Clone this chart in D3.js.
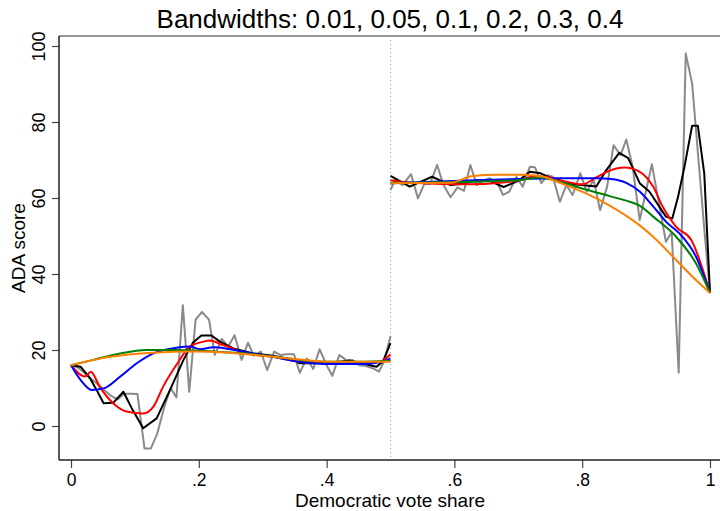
<!DOCTYPE html>
<html lang="en">
<head>
  <meta charset="UTF-8">
  <title>Bandwidths</title>
  <script src="https://cdn.jsdelivr.net/npm/d3@7"></script>
  <style>
    body { margin: 0; background: #fff; }
    text { font-family: "Liberation Sans", Arial, sans-serif; fill: #000; }
    .tick line { stroke: #444; stroke-width: 1.2px; }
    .line { fill: none; stroke-width: 2px; stroke-linejoin: round; }
  </style>
</head>
<body>
  <svg width="720" height="511"></svg>
  <script>
    // tick labels
    var xTicks = [0, 0.2, 0.4, 0.6, 0.8, 1];
    var xTickLabels = ["0", ".2", ".4", ".6", ".8", "1"];
    var yTicks = [0, 20, 40, 60, 80, 100];

    // bandwidth 0.01 (gray)
    var bw001Left = [[0,16],[0.01,15.5],[0.021,14],[0.031,12.5],[0.042,11],[0.052,9.5],[0.062,8],[0.073,7],
      [0.083,8.5],[0.094,8.5],[0.104,8.4],[0.115,-5.9],[0.125,-5.9],[0.135,-2],[0.146,5],[0.156,10],[0.165,7.5],
      [0.175,31.8],[0.185,9],[0.195,28],[0.205,30],[0.216,28],[0.225,18.7],[0.236,22.9],[0.246,20.9],[0.256,23.9],
      [0.267,17.4],[0.277,21.9],[0.286,18.5],[0.297,19.6],[0.307,14.7],[0.318,19.6],[0.327,18.7],[0.338,18.9],
      [0.349,18.9],[0.358,14],[0.369,17.8],[0.379,15],[0.389,20.2],[0.40,16],[0.409,13.2],[0.42,18.7],[0.43,17.4],
      [0.44,17.4],[0.451,16],[0.461,15.8],[0.472,15.2],[0.482,14.3],[0.49,17],[0.5,23.7]];
    var bw001Right = [[0.5,62.1],[0.507,64.7],[0.519,63.4],[0.532,66.3],[0.543,59.9],[0.553,63.7],[0.562,63.7],
      [0.573,68.7],[0.583,63.4],[0.594,60.2],[0.605,62.8],[0.615,61.9],[0.625,68.7],[0.635,63.4],[0.646,64.7],
      [0.656,65.2],[0.668,63.7],[0.676,60.8],[0.686,61.7],[0.697,65.6],[0.707,63],[0.718,68.2],[0.726,68.1],
      [0.736,63.9],[0.746,66],[0.754,65.6],[0.765,59],[0.775,63.4],[0.785,60.8],[0.797,66.5],[0.807,61.7],
      [0.818,64.7],[0.828,56.8],[0.839,63],[0.849,73.9],[0.86,71.3],[0.869,75.4],[0.879,68.2],[0.89,54.2],
      [0.909,68.9],[0.931,48.5],[0.94,51],[0.951,14],[0.962,98],[0.972,90.2],[0.982,70],[0.991,52],[1,35]];

    // bandwidth 0.05 (black)
    var bw005Left = [[0,16],[0.015,15.6],[0.03,12.5],[0.04,9.5],[0.051,6],[0.066,6.1],[0.082,9],[0.095,4.7],
      [0.113,-0.6],[0.134,2],[0.155,9.5],[0.176,17.4],[0.191,22],[0.204,23.8],[0.22,23.8],[0.233,22.2],
      [0.254,20.4],[0.285,19.1],[0.316,18.5],[0.348,17.4],[0.358,16.5],[0.379,16.5],[0.41,16.8],[0.436,17.2],
      [0.455,16.5],[0.478,15.6],[0.488,16.9],[0.5,21.8]];
    var bw005Right = [[0.5,65.8],[0.53,63],[0.565,65.6],[0.594,63.4],[0.615,63.8],[0.635,64.7],[0.655,64.5],
      [0.677,62.9],[0.7,64.5],[0.718,66.9],[0.735,66.5],[0.749,65.4],[0.77,63.9],[0.795,63.5],[0.822,63],
      [0.838,67.4],[0.858,71.9],[0.872,70.5],[0.89,63.9],[0.905,61.7],[0.931,55.1],[0.941,54.6],[0.95,60.3],
      [0.96,68.2],[0.972,79],[0.981,79],[0.991,66.5],[1,35]];

    // bandwidth 0.1 (red)
    var bw01Left = [[0,16],[0.022,13],[0.031,14.3],[0.045,10.3],[0.066,6],[0.087,3.8],[0.113,3.3],[0.129,5.1],
      [0.144,10.3],[0.165,16.1],[0.186,20.9],[0.207,22.2],[0.217,22.5],[0.238,21.3],[0.275,19.1],[0.316,18.2],
      [0.358,16.9],[0.405,16.5],[0.452,16.5],[0.483,16.9],[0.5,18.9]];
    var bw01Right = [[0.5,64.7],[0.535,64],[0.58,63.7],[0.624,63.6],[0.671,64],[0.702,64.7],[0.728,65.8],
      [0.749,65.4],[0.775,64.3],[0.8,63.6],[0.822,65.4],[0.843,67.2],[0.866,68],[0.89,66.9],[0.911,63],
      [0.926,57.7],[0.947,52.4],[0.971,48.9],[0.989,41],[1,35]];

    // bandwidth 0.2 (blue)
    var bw02Left = [[0,16],[0.017,11.7],[0.032,9.5],[0.051,9.9],[0.077,13],[0.103,16.5],[0.129,19.1],
      [0.165,20.6],[0.186,20.9],[0.202,20.2],[0.223,20.7],[0.249,20.2],[0.275,19.4],[0.316,18.2],[0.358,16.9],
      [0.405,16.3],[0.452,16.3],[0.483,16.8],[0.5,17.8]];
    var bw02Right = [[0.5,63.9],[0.6,64.5],[0.7,65],[0.765,65.2],[0.822,65.2],[0.845,65],[0.869,64],
      [0.89,61.7],[0.91,58],[0.931,53.8],[0.957,49.8],[0.978,44.6],[1,35]];

    // bandwidth 0.3 (green)
    var bw03Left = [[0,16],[0.035,17.4],[0.077,19.1],[0.118,20],[0.165,20],[0.223,19.6],[0.275,19.1],
      [0.316,18.3],[0.358,17.4],[0.405,16.9],[0.452,16.9],[0.5,17.2]];
    var bw03Right = [[0.5,64],[0.624,64.3],[0.702,64.7],[0.733,65.4],[0.765,64.3],[0.796,62.7],[0.843,60.5],
      [0.869,59.3],[0.89,58],[0.911,55.1],[0.947,49.8],[0.978,42.8],[1,35]];

    // bandwidth 0.4 (orange)
    var bw04Left = [[0,16],[0.061,18.2],[0.129,19.3],[0.19,19.6],[0.249,19.3],[0.275,18.9],[0.316,18.2],
      [0.358,17.5],[0.405,16.9],[0.452,16.9],[0.5,16.9]];
    var bw04Right = [[0.5,63.9],[0.593,64],[0.629,65.8],[0.665,66.1],[0.707,66.1],[0.739,65.6],[0.765,64],
      [0.806,61.2],[0.843,58],[0.869,55.3],[0.89,52.8],[0.911,49.8],[0.947,43.7],[0.978,38.4],[1,35]];

    var series = [
      {left: bw001Left, right: bw001Right, color: "#8a8a8a", curve: d3.curveLinear},
      {left: bw005Left, right: bw005Right, color: "#000000", curve: d3.curveLinear},
      {left: bw01Left, right: bw01Right, color: "#ff0000", curve: d3.curveMonotoneX},
      {left: bw02Left, right: bw02Right, color: "#0000ff", curve: d3.curveMonotoneX},
      {left: bw03Left, right: bw03Right, color: "#008000", curve: d3.curveMonotoneX},
      {left: bw04Left, right: bw04Right, color: "#ff8000", curve: d3.curveMonotoneX}
    ];

    var svg = d3.select("svg"),
        plot = {left: 59, right: 722, top: 36, bottom: 460};

    var x = d3.scaleLinear().domain([0, 1]).range([71, 710]);
    var y = d3.scaleLinear().domain([0, 100]).range([426, 46]);

    // title
    svg.append("text")
        .attr("x", 390)
        .attr("y", 28)
        .attr("text-anchor", "middle")
        .style("font-size", "26px")
        .text("Bandwidths: 0.01, 0.05, 0.1, 0.2, 0.3, 0.4");

    // cutoff line
    svg.append("line")
        .attr("x1", x(0.5)).attr("x2", x(0.5))
        .attr("y1", plot.top).attr("y2", plot.bottom)
        .attr("stroke", "#999")
        .attr("stroke-width", 1)
        .attr("stroke-dasharray", "1,3");

    // curves
    series.forEach(function(s) {
      var line = d3.line()
          .curve(s.curve)
          .x(function(d) { return x(d[0]); })
          .y(function(d) { return y(d[1]); });
      [s.left, s.right].forEach(function(part) {
        svg.append("path")
            .datum(part)
            .attr("class", "line")
            .attr("stroke", s.color)
            .attr("d", line);
      });
    });

    // x axis
    var gx = svg.append("g")
        .attr("transform", "translate(0," + plot.bottom + ")")
        .call(d3.axisBottom(x).tickValues(xTicks).tickSize(8).tickSizeOuter(0)
          .tickFormat(function(d, i) { return xTickLabels[i]; }));
    gx.select(".domain").remove();
    gx.selectAll("text").attr("y", 26).attr("dy", 0).style("font-size", "17.5px").attr("fill", "#000");

    // y axis
    var gy = svg.append("g")
        .attr("transform", "translate(" + plot.left + ",0)")
        .call(d3.axisLeft(y).tickValues(yTicks).tickSize(7).tickSizeOuter(0));
    gy.select(".domain").remove();
    gy.selectAll("text")
        .attr("transform", "rotate(-90)")
        .attr("x", 0).attr("y", -14).attr("dy", 0)
        .attr("text-anchor", "middle")
        .style("font-size", "18px").attr("fill", "#000");

    // plot frame: top edge, then axis lines
    svg.append("line")
        .attr("x1", plot.left).attr("x2", plot.right)
        .attr("y1", plot.top).attr("y2", plot.top)
        .attr("stroke", "#777").attr("stroke-width", 1.5);
    svg.append("line")
        .attr("x1", plot.left).attr("x2", plot.right)
        .attr("y1", plot.bottom).attr("y2", plot.bottom)
        .attr("stroke", "#222").attr("stroke-width", 1.5);
    svg.append("line")
        .attr("x1", plot.left).attr("x2", plot.left)
        .attr("y1", plot.top).attr("y2", plot.bottom)
        .attr("stroke", "#222").attr("stroke-width", 1.5);

    // axis titles
    svg.append("text")
        .attr("x", 390).attr("y", 506.5)
        .attr("text-anchor", "middle")
        .style("font-size", "19px")
        .text("Democratic vote share");

    svg.append("text")
        .attr("transform", "translate(25," + ((plot.top + plot.bottom) / 2) + ") rotate(-90)")
        .attr("text-anchor", "middle")
        .style("font-size", "19px")
        .text("ADA score");
  </script>
</body>
</html>
